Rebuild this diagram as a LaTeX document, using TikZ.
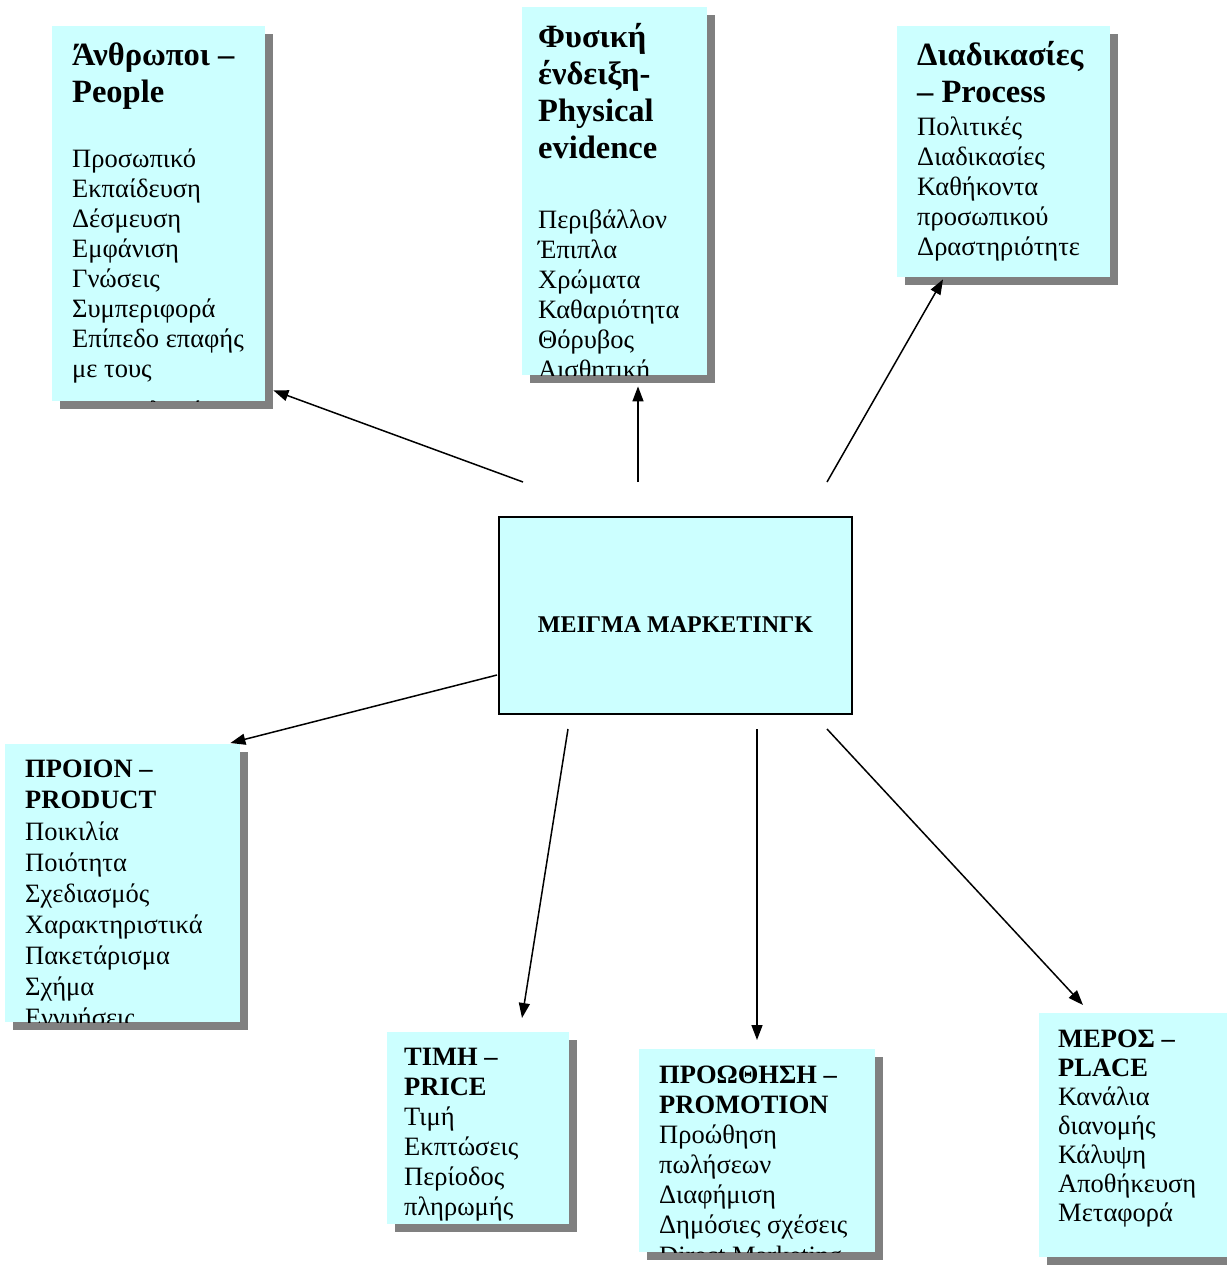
\documentclass[tikz,border=0pt]{standalone}
\usepackage{fontspec}
\setmainfont{Liberation Serif}
\usetikzlibrary{
  arrows.meta,
  positioning,
  calc,
  shadows,
}
\definecolor{boxcyan}{HTML}{CCFFFF}
\definecolor{shadowgrey}{HTML}{808080}
\newcommand{\bodysize}{\fontsize{26.5}{30}\selectfont}
\newcommand{\headsize}{\bfseries\fontsize{32.5}{37}\selectfont}
\newcommand{\subsize}{\bfseries\fontsize{26.5}{30}\selectfont}

\begin{document}
\begin{tikzpicture}[x=1pt, y=-1pt,
    box/.style={fill=boxcyan, anchor=north west, inner sep=0pt,
                drop shadow={shadow xshift=8pt, shadow yshift=-8pt,
                             fill=shadowgrey, opacity=1}},
    txt/.style={anchor=base west, inner sep=0pt, align=left, font=\bodysize},
    head/.style={txt, font=\headsize},
    sub/.style={txt, font=\subsize},
    link/.style={-{Triangle[length=15pt, width=11pt]}, line width=1.5pt},
  ]
  \useasboundingbox (0,0) rectangle (1226,1266);

  % Marketing mix in the middle
  \node[draw, line width=2pt, fill=boxcyan, anchor=north west,
        minimum width=353pt, minimum height=197pt, text height=34pt,
        font=\bfseries\fontsize{24}{28}\selectfont] (mix) at (498,516)
        {ΜΕΙΓΜΑ ΜΑΡΚΕΤΙΝΓΚ};

  % People (text nodes sit on the baseline of their last line)
  \node[box, minimum width=213pt, minimum height=375pt] (people) at (52,26) {};
  \begin{scope}
    \clip (people.north west) rectangle (people.south east);
    \node[head] (peoplehead) at (72,102) {Άνθρωποι –\\People};
    \node[txt] (peoplebody) at (72,419) {Προσωπικό\\Εκπαίδευση\\Δέσμευση\\
      Εμφάνιση\\Γνώσεις\\Συμπεριφορά\\Επίπεδο επαφής\\με τους\\[12pt]καταναλωτές};
  \end{scope}

  % Physical evidence
  \node[box, minimum width=185pt, minimum height=368pt] (physical) at (522,7) {};
  \begin{scope}
    \clip (physical.north west) rectangle (physical.south east);
    \node[head] (physicalhead) at (538,158) {Φυσική\\ένδειξη-\\Physical\\evidence};
    \node[txt] (physicalbody) at (538,378) {Περιβάλλον\\Έπιπλα\\Χρώματα\\
      Καθαριότητα\\Θόρυβος\\Αισθητική};
  \end{scope}

  % Process
  \node[box, minimum width=213pt, minimum height=251pt] (process) at (897,26) {};
  \begin{scope}
    \clip (process.north west) rectangle (process.south east);
    \node[head] (processhead) at (917,102) {Διαδικασίες\\– Process};
    \node[txt] (processbody) at (917,255) {Πολιτικές\\Διαδικασίες\\Καθήκοντα\\
      προσωπικού\\Δραστηριότητε};
  \end{scope}

  % Product
  \node[box, minimum width=235pt, minimum height=278pt] (product) at (5,744) {};
  \begin{scope}
    \clip (product.north west) rectangle (product.south east);
    \node[sub, font=\subsize\fontsize{26.5}{31}\selectfont] (producthead) at (25,808) {ΠΡΟΙΟΝ –\\PRODUCT};
    \node[txt, font=\fontsize{26.5}{31}\selectfont] (productbody) at (25,1026) {Ποικιλία\\Ποιότητα\\Σχεδιασμός\\
      Χαρακτηριστικά\\Πακετάρισμα\\Σχήμα\\Εγγυήσεις};
  \end{scope}

  % Price
  \node[box, minimum width=182pt, minimum height=192pt] (price) at (387,1032) {};
  \begin{scope}
    \clip (price.north west) rectangle (price.south east);
    \node[sub] (pricehead) at (404,1095) {ΤΙΜΗ –\\PRICE};
    \node[txt] (pricebody) at (404,1215) {Τιμή\\Εκπτώσεις\\Περίοδος\\πληρωμής};
  \end{scope}

  % Promotion
  \node[box, minimum width=236pt, minimum height=203pt] (promotion) at (639,1049) {};
  \begin{scope}
    \clip (promotion.north west) rectangle (promotion.south east);
    \node[sub] (promotionhead) at (659,1113) {ΠΡΟΩΘΗΣΗ –\\PROMOTION};
    \node[txt] (promotionbody) at (659,1264) {Προώθηση\\πωλήσεων\\Διαφήμιση\\
      Δημόσιες σχέσεις\\[1pt]Direct Marketing};
  \end{scope}

  % Place
  \node[box, minimum width=190pt, minimum height=244pt] (place) at (1039,1013) {};
  \begin{scope}
    \clip (place.north west) rectangle (place.south east);
    \node[sub, font=\subsize\fontsize{26.5}{29}\selectfont] (placehead) at (1058,1076) {ΜΕΡΟΣ –\\PLACE};
    \node[txt, font=\fontsize{26.5}{29}\selectfont] (placebody) at (1058,1221) {Κανάλια\\διανομής\\Κάλυψη\\
      Αποθήκευση\\Μεταφορά};
  \end{scope}

  % arrows out of the mix
  \draw[link] ($(mix.north west)+(25,-34)$)  -- ($(people.south east)+(8,-11)$);
  \draw[link] ($(mix.north west)+(140,-34)$) -- ($(physical.south west)+(116,11)$);
  \draw[link] ($(mix.north west)+(329,-34)$) -- ($(process.south west)+(46,2)$);
  \draw[link] ($(mix.south west)+(-1,-40)$)  -- ($(product.north east)+(-10,-1)$);
  \draw[link] ($(mix.south west)+(70,14)$)   -- ($(price.north west)+(135,-14)$);
  \draw[link] ($(mix.south west)+(259,14)$)  -- ($(promotion.north west)+(118,-9)$);
  \draw[link] ($(mix.south west)+(329,14)$)  -- ($(place.north west)+(44,-8)$);
\end{tikzpicture}
\end{document}
